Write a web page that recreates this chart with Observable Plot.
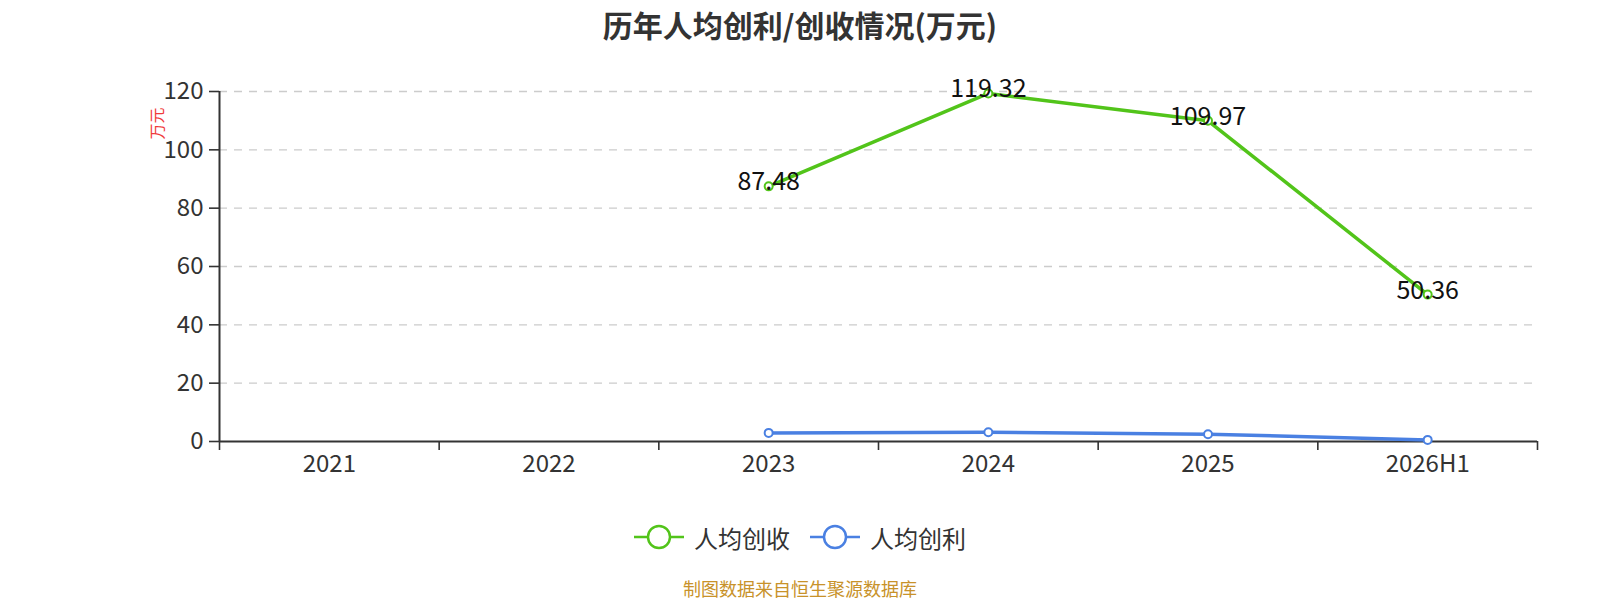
<!DOCTYPE html>
<html><head><meta charset="utf-8">
<script src="https://cdn.jsdelivr.net/npm/d3@7"></script>
<script src="https://cdn.jsdelivr.net/npm/@observablehq/plot@0.6"></script>
<style>
body{margin:0;width:1600px;height:600px;overflow:hidden;background:#fff;font-family:"Noto Sans CJK SC","Noto Sans",sans-serif;}
#title{height:50px;line-height:48px;text-align:center;font-size:30px;font-weight:bold;color:#333;}
#chart{height:440px;}
#legend{margin-top:32px;height:30px;display:flex;justify-content:center;align-items:center;gap:20px;font-size:24px;color:#333;}
.item{display:flex;align-items:center;gap:10px;}
#caption{margin-top:24px;height:24px;line-height:24px;text-align:center;font-size:18px;color:#c8922a;}
</style></head><body>
<div id="title">历年人均创利/创收情况(万元)</div>
<div id="chart"></div>
<div id="legend"></div>
<div id="caption">制图数据来自恒生聚源数据库</div>
<script>
const categories = ["2021","2022","2023","2024","2025","2026H1"];
const revenuePerCapita = [null,null,87.48,119.32,109.97,50.36];
const profitPerCapita = [null,null,2.95,3.2,2.5,0.55];
const yTicks = [0,20,40,60,80,100,120];
const seriesNames = ["人均创收","人均创利"];
const seriesColors = ["#52c41a","#4a80e2"];
const yUnit = "万元";

const toRows = vals => vals.map((v,i)=>({i, v})).filter(d => d.v != null);
const revRows = toRows(revenuePerCapita);
const proRows = toRows(profitPerCapita);
const idx = categories.map((_,i)=>i);
const bounds = d3.range(-0.5, categories.length, 1);

const chart = Plot.plot({
  width:1600, height:440, marginTop:41, marginBottom:49, marginLeft:219, marginRight:63,
  style:{fontFamily:'"Noto Sans CJK SC","Noto Sans",sans-serif', fontSize:"24px", color:"#333", background:"transparent", overflow:"visible"},
  x:{type:"linear", domain:[-0.5, categories.length-0.5]},
  y:{domain:[0,120]},
  marks:[
    Plot.ruleY(yTicks.filter(d=>d>0), {stroke:"#ccc", strokeWidth:1.3, strokeDasharray:"8,7"}),
    Plot.axisY({ticks:yTicks, tickSize:10, tickPadding:6, fontSize:24, label:null, strokeWidth:1.6, stroke:"#333", fill:"#333"}),
    Plot.axisX({ticks:bounds, tickSize:9, tickFormat:()=>"", label:null, strokeWidth:1.6, stroke:"#333"}),
    Plot.axisX({ticks:idx, tickSize:0, tickPadding:13, tickFormat:i=>categories[i], label:null, fontSize:24, fill:"#333"}),
    Plot.ruleY([0], {stroke:"#333", strokeWidth:2}),
    Plot.ruleX([-0.5], {y1:0, y2:120, stroke:"#333", strokeWidth:2}),
    Plot.text([yUnit], {frameAnchor:"top-left", textAnchor:"middle", lineAnchor:"middle", dx:-62, dy:32, rotate:-90, fill:"#f03a3a", fontSize:16}),
    Plot.line(proRows, {x:"i", y:"v", stroke:seriesColors[1], strokeWidth:3.5}),
    Plot.dot(proRows, {x:"i", y:"v", r:4, fill:"white", stroke:seriesColors[1], strokeWidth:2}),
    Plot.line(revRows, {x:"i", y:"v", stroke:seriesColors[0], strokeWidth:3.5}),
    Plot.dot(revRows, {x:"i", y:"v", r:4, fill:"white", stroke:seriesColors[0], strokeWidth:2}),
    Plot.text(revRows, {x:"i", y:"v", text:d=>d.v.toFixed(2), fontSize:25, fill:"#111", lineAnchor:"middle", dy:-4})
  ]
});
document.getElementById("chart").appendChild(chart);

const legend = document.getElementById("legend");
seriesNames.forEach((name, k) => {
  const item = document.createElement("div");
  item.className = "item";
  item.innerHTML = `<svg width="50" height="26"><line x1="0" y1="13" x2="50" y2="13" stroke="${seriesColors[k]}" stroke-width="2.5"/><circle cx="25" cy="13" r="11" fill="white" stroke="${seriesColors[k]}" stroke-width="2.5"/></svg><span>${name}</span>`;
  legend.appendChild(item);
});
</script>
</body></html>
